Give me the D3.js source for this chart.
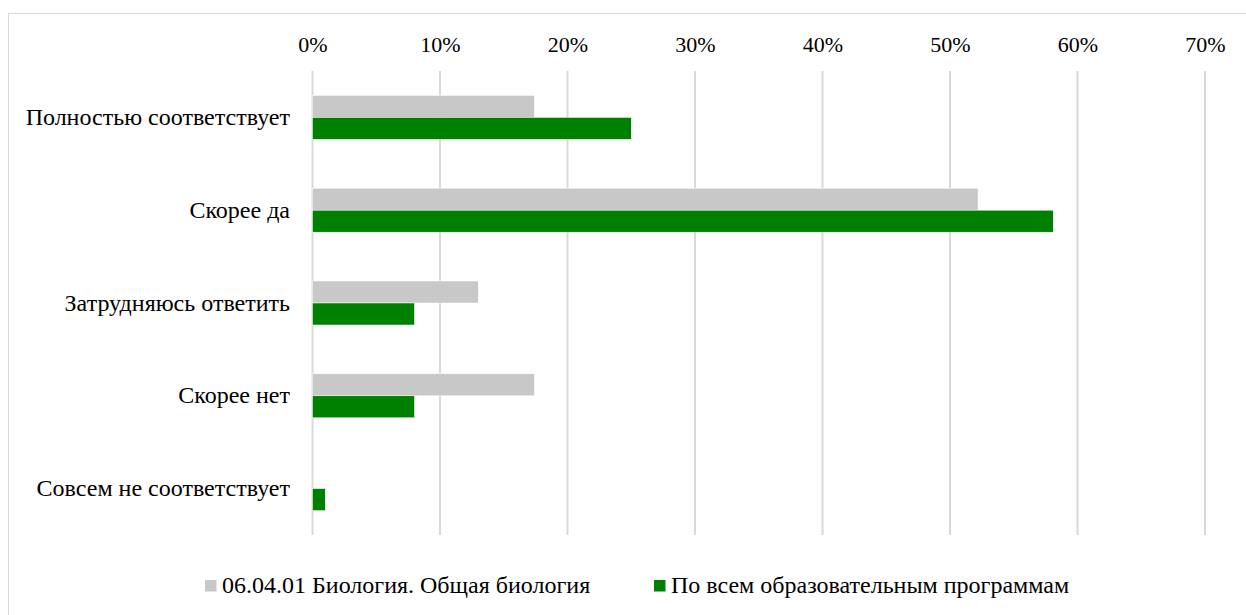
<!DOCTYPE html>
<html><head><meta charset="utf-8">
<script src="https://cdn.jsdelivr.net/npm/d3@7"></script>
<style>body{margin:0;background:#fff}svg{display:block}</style>
</head><body>
<svg id="c" width="1246" height="615"></svg>
<script>
const categories = ["Полностью соответствует","Скорее да","Затрудняюсь ответить","Скорее нет","Совсем не соответствует"];
const seriesNames = ["06.04.01 Биология. Общая биология","По всем образовательным программам"];
const biology = [17.4, 52.2, 13.0, 17.4, 0];
const allPrograms = [25.0, 58.1, 8.0, 8.0, 1.0];
const tickValues = [0,10,20,30,40,50,60,70];
const colors = ["#C8C8C8","#008000"];

const svg = d3.select("#c");
const font = "Liberation Serif";
svg.append("rect").attr("x",8.5).attr("y",13.5).attr("width",1400).attr("height",800)
  .attr("fill","none").attr("stroke","#d9d9d9").attr("stroke-width",1);

const x = d3.scaleLinear().domain([0,70]).range([312.5,1205]);
const y = d3.scaleBand().domain(categories).range([71,535]).paddingInner(0.526).paddingOuter(0.263);
const y1 = d3.scaleBand().domain([0,1]).range([0,y.bandwidth()]);

svg.append("g").selectAll("line").data(tickValues).join("line")
  .attr("x1",d=>x(d)).attr("x2",d=>x(d)).attr("y1",71).attr("y2",535)
  .attr("stroke","#d9d9d9").attr("stroke-width",2);

const axis = d3.axisTop(x).tickValues(tickValues).tickFormat(d=>d+"%").tickSize(0).tickPadding(0);
const ag = svg.append("g").attr("transform","translate(0,52)").call(axis);
ag.select(".domain").remove();
ag.selectAll("text").attr("font-family",font).attr("font-size",22).attr("fill","#000");

const data = [biology, allPrograms];
data.forEach((vals,si)=>{
  svg.append("g").selectAll("rect").data(vals).join("rect")
    .attr("x",x(0)).attr("y",(d,i)=>y(categories[i])+y1(si))
    .attr("width",d=>x(d)-x(0)).attr("height",y1.bandwidth())
    .attr("fill",colors[si]).attr("stroke","#fff").attr("stroke-width",0.5);
});

const yg = svg.append("g").attr("transform","translate(290,0)")
  .call(d3.axisLeft(y).tickSize(0).tickPadding(0));
yg.select(".domain").remove();
yg.selectAll("text").attr("font-family",font).attr("font-size",24).attr("fill","#000");

const legendX = [205, 654];
seriesNames.forEach((n,i)=>{
  svg.append("rect").attr("x",legendX[i]).attr("y",580).attr("width",11.5).attr("height",11.5).attr("fill",colors[i]);
  svg.append("text").attr("x",legendX[i]+17).attr("y",593).attr("font-family",font).attr("font-size",24)
    .attr("fill","#000").text(n);
});
</script>
</body></html>
